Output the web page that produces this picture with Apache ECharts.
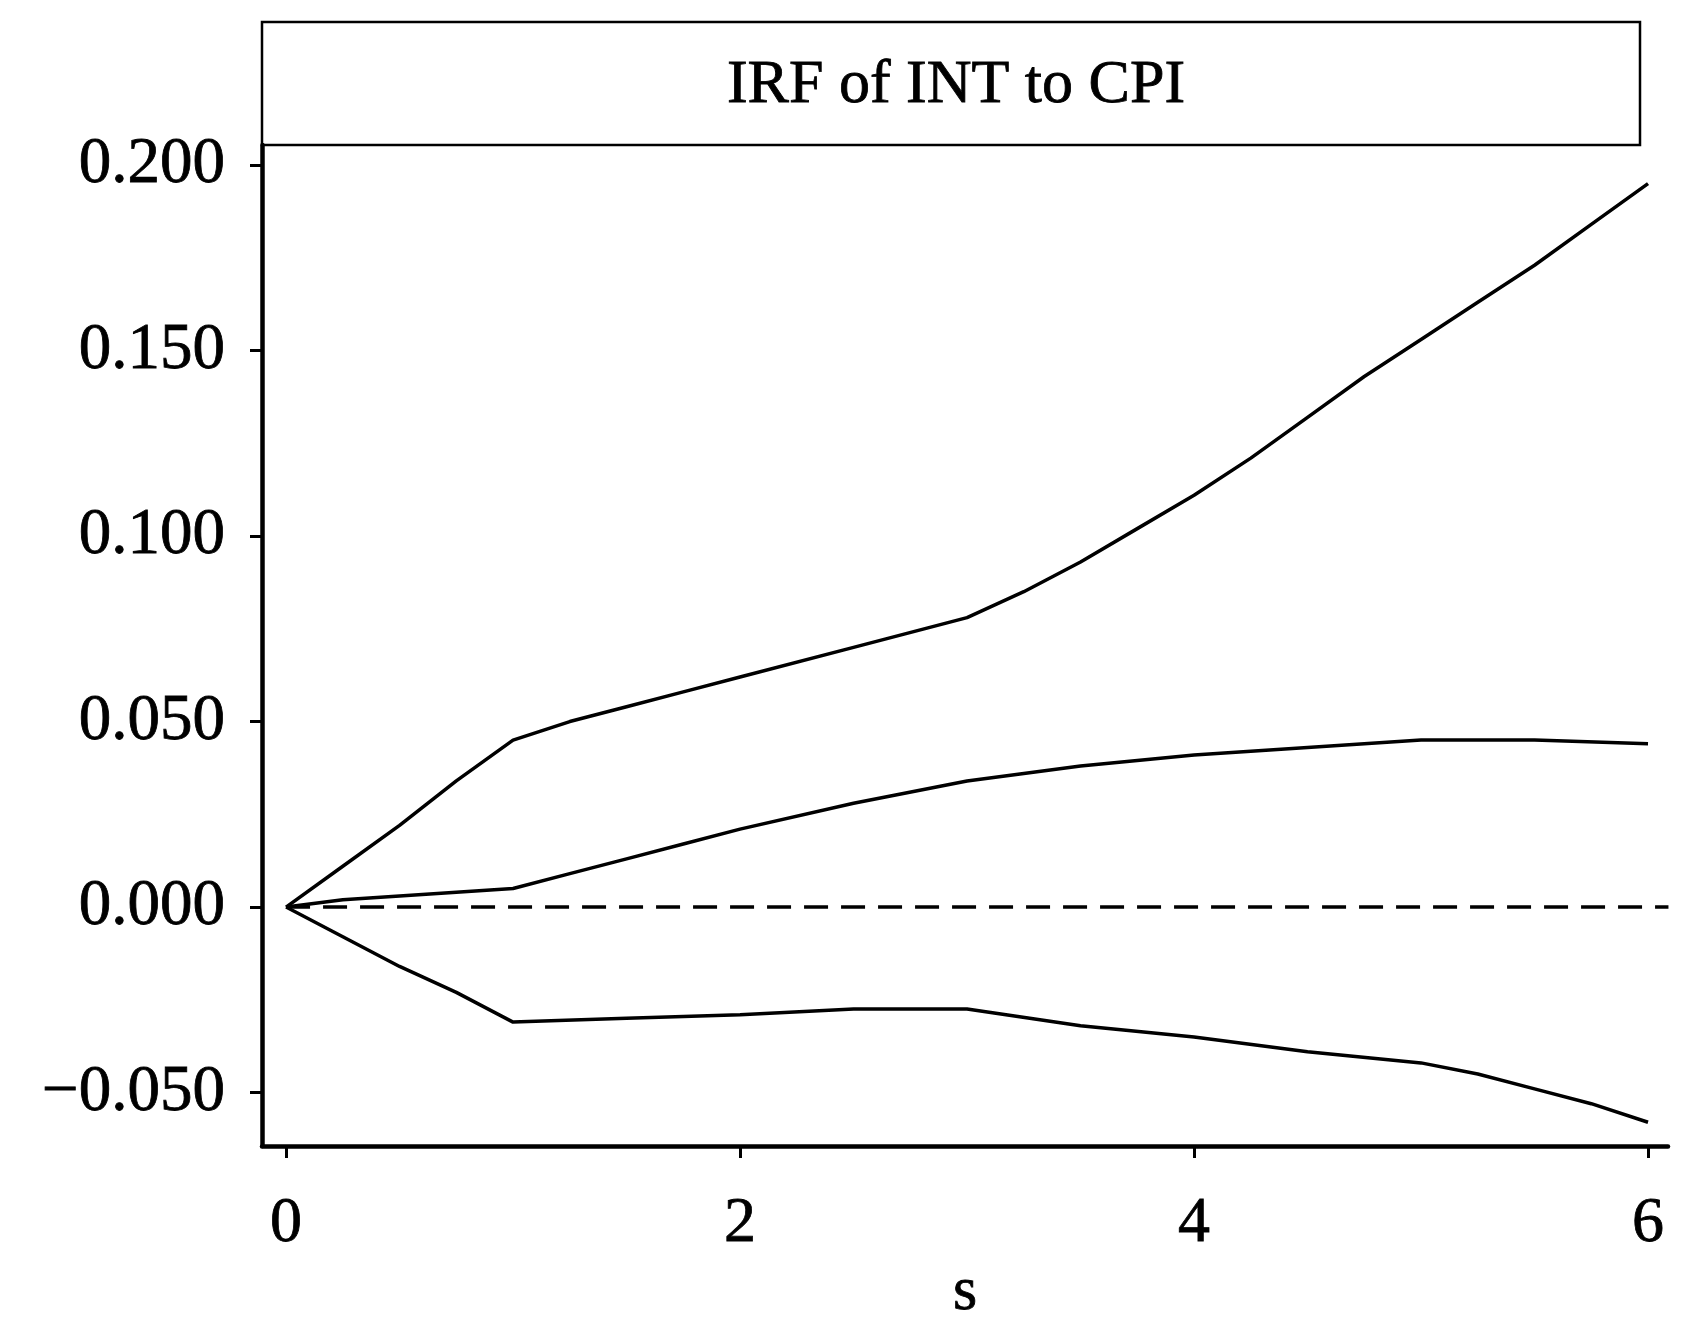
<!DOCTYPE html>
<html>
<head>
<meta charset="utf-8">
<script src="https://cdn.jsdelivr.net/npm/echarts@6/dist/echarts.min.js"></script>
<style>
  html, body { margin: 0; padding: 0; background: #ffffff; }
  #chart { width: 1704px; height: 1319px; }
</style>
</head>
<body>
<div id="chart"></div>
<script>
// ---- data ----
const chartTitle = "IRF of INT to CPI";
const xAxisName = "s";
const xTickValues = [0, 2, 4, 6];
const yTickValues = [-0.05, 0, 0.05, 0.1, 0.15, 0.2];

const upperX = [0, 0.25, 0.5, 0.75, 1.0, 1.25, 1.5, 1.75, 2.0, 2.5, 3.0, 3.25, 3.5, 3.75, 4.0, 4.25, 4.5, 4.75, 5.0, 5.25, 5.5, 5.75, 6.0];
const upperY = [0, 0.011, 0.022, 0.034, 0.045, 0.050, 0.054, 0.058, 0.062, 0.070, 0.078, 0.085, 0.093, 0.102, 0.111, 0.121, 0.132, 0.143, 0.153, 0.163, 0.173, 0.184, 0.195];

const irfX = [0, 0.25, 0.5, 0.75, 1.0, 1.25, 1.5, 1.75, 2.0, 2.5, 3.0, 3.5, 4.0, 4.5, 5.0, 5.5, 6.0];
const irfY = [0, 0.002, 0.003, 0.004, 0.005, 0.009, 0.013, 0.017, 0.021, 0.028, 0.034, 0.038, 0.041, 0.043, 0.045, 0.045, 0.044];

const lowerX = [0, 0.25, 0.5, 0.75, 1.0, 1.5, 2.0, 2.5, 3.0, 3.5, 4.0, 4.5, 5.0, 5.25, 5.5, 5.75, 6.0];
const lowerY = [0, -0.008, -0.016, -0.023, -0.031, -0.030, -0.029, -0.0275, -0.0275, -0.032, -0.035, -0.039, -0.042, -0.045, -0.049, -0.053, -0.058];

const zeroX = [0, 6.09];
const zeroY = [0, 0];

// ---- build chart ----
function pairs(xs, ys) { return xs.map((x, i) => [x, ys[i]]); }
const FONT = '"Liberation Serif", "Times New Roman", serif';

const chart = echarts.init(document.getElementById('chart'), null, { renderer: 'canvas' });

const lineSeries = (name, xs, ys, type) => ({
  name: name,
  type: 'line',
  data: pairs(xs, ys),
  showSymbol: false,
  symbol: 'none',
  silent: true,
  lineStyle: { color: '#000000', width: 3.5, type: type || 'solid' },
  z: 3
});

const textWeight = { textBorderColor: '#000000', textBorderWidth: 0.8 };

chart.setOption({
  animation: false,
  backgroundColor: '#ffffff',
  title: {
    text: chartTitle,
    left: 951,
    top: 50,
    textAlign: 'center',
    textStyle: Object.assign({ fontFamily: FONT, fontSize: 62, fontWeight: 'normal', color: '#000000' }, textWeight)
  },
  graphic: [{
    type: 'rect',
    shape: { x: 262, y: 22, width: 1378, height: 123 },
    style: { fill: 'none', stroke: '#000000', lineWidth: 2.5 },
    silent: true,
    z: 1
  }],
  grid: { left: 262, right: 36, top: 145, bottom: 173, containLabel: false, outerBoundsMode: 'none' },
  xAxis: {
    type: 'value',
    min: -0.106,
    max: 6.088,
    name: xAxisName,
    nameLocation: 'middle',
    nameGap: 116,
    nameTextStyle: Object.assign({ fontFamily: FONT, fontSize: 62, color: '#000000' }, textWeight),
    axisLine: { show: true, onZero: false, lineStyle: { color: '#000000', width: 4.5 } },
    axisTick: { show: true, inside: false, length: 12, customValues: xTickValues, lineStyle: { color: '#000000', width: 3 } },
    axisLabel: Object.assign({ show: true, margin: 46, customValues: xTickValues, fontFamily: FONT, fontSize: 64, color: '#000000',
      formatter: v => String(Math.round(v)) }, textWeight),
    splitLine: { show: false }
  },
  yAxis: {
    type: 'value',
    min: -0.0644,
    max: 0.2054,
    axisLine: { show: true, onZero: false, lineStyle: { color: '#000000', width: 4.5 } },
    axisTick: { show: true, inside: false, length: 12, customValues: yTickValues, lineStyle: { color: '#000000', width: 3 } },
    axisLabel: Object.assign({ show: true, margin: 37, customValues: yTickValues, fontFamily: FONT, fontSize: 65, color: '#000000',
      formatter: v => v.toFixed(3).replace('-', '\u2212') }, textWeight),
    splitLine: { show: false }
  },
  series: [
    lineSeries('Upper', upperX, upperY),
    lineSeries('IRF', irfX, irfY),
    lineSeries('Lower', lowerX, lowerY),
    lineSeries('Zero', zeroX, zeroY, [24, 13])
  ]
});
</script>
</body>
</html>
